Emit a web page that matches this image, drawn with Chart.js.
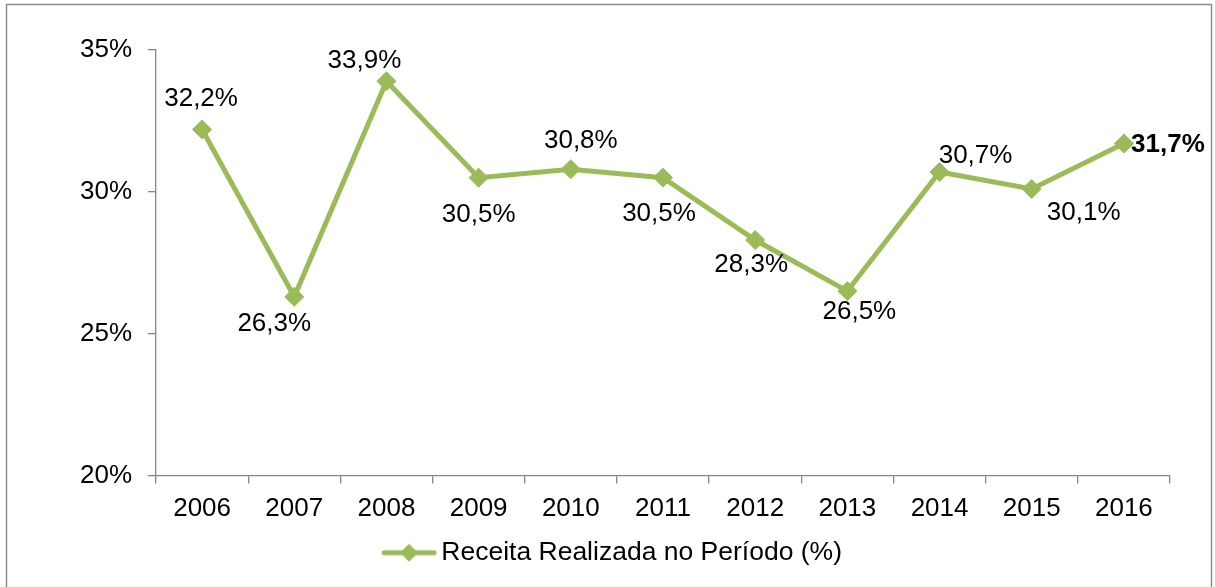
<!DOCTYPE html>
<html><head><meta charset="utf-8">
<script src="https://cdn.jsdelivr.net/npm/chart.js@4"></script>
<style>html,body{margin:0;padding:0;background:#fff}#wrap{width:1215px;height:587px}</style>
</head><body><div id="wrap"><canvas id="c" width="1215" height="587"></canvas></div>
<script>
const categories = ['2006','2007','2008','2009','2010','2011','2012','2013','2014','2015','2016'];
const values = [32.2, 26.3, 33.9, 30.5, 30.8, 30.5, 28.3, 26.5, 30.7, 30.1, 31.7];
const yTicks = [20, 25, 30, 35];
const seriesName = 'Receita Realizada no Período (%)';
// label nudges (px) relative to each point, as placed in the original
const labelOffsets = [[-1,-31],[-20,27],[-22,-20],[0,37],[10,-28],[-4,36],[-4,25],[12,21],[36,-16],[52,24],[44,1]];
const boldLabels = [false,false,false,false,false,false,false,false,false,false,true];

const GREEN = '#9BBB59';
const AXIS = '#868686';
const FONT = '"Liberation Sans", Arial, sans-serif';
Chart.defaults.font.family = FONT;
Chart.defaults.font.size = 26;
Chart.defaults.color = '#000';

// legend symbol: line with a diamond
const sym = document.createElement('canvas');
sym.width = 56; sym.height = 20;
(function(){
  const g = sym.getContext('2d');
  g.strokeStyle = GREEN; g.lineWidth = 5; g.lineCap = 'round';
  g.beginPath(); g.moveTo(3,10); g.lineTo(53,10); g.stroke();
  g.fillStyle = GREEN;
  g.beginPath(); g.moveTo(28,1); g.lineTo(37,10); g.lineTo(28,19); g.lineTo(19,10); g.closePath(); g.fill();
})();

const fmt = v => v.toFixed(1).replace('.', ',') + '%';

const frame = {
  id: 'frame',
  beforeDraw(chart) {
    const c = chart.ctx;
    c.save();
    c.fillStyle = '#fff'; c.fillRect(0,0,chart.width,chart.height);
    c.strokeStyle = '#8c8c8c'; c.lineWidth = 1.5;
    c.strokeRect(6.5, 4.5, 1205, 600);
    c.restore();
  }
};

const valueLabels = {
  id: 'valueLabels',
  afterDatasetsDraw(chart) {
    const c = chart.ctx;
    const meta = chart.getDatasetMeta(0);
    c.save();
    c.textAlign = 'center';
    c.textBaseline = 'middle';
    c.fillStyle = '#000';
    meta.data.forEach((pt, i) => {
      c.font = (boldLabels[i] ? 'bold ' : '') + '26px ' + FONT;
      const o = labelOffsets[i];
      c.fillText(fmt(values[i]), pt.x + o[0], pt.y + o[1]);
    });
    c.restore();
  }
};

new Chart(document.getElementById('c'), {
  type: 'line',
  data: {
    labels: categories,
    datasets: [{
      label: seriesName,
      data: values,
      borderColor: GREEN,
      backgroundColor: GREEN,
      borderWidth: 5,
      tension: 0,
      pointStyle: 'rectRot',
      pointRadius: 9.5,
      pointBorderWidth: 1,
      pointBackgroundColor: GREEN,
      pointBorderColor: GREEN,
      clip: false
    }]
  },
  options: {
    responsive: false,
    animation: false,
    layout: { padding: { left: 62, right: 45, top: 50, bottom: 11 } },
    plugins: {
      tooltip: { enabled: false },
      legend: {
        position: 'bottom',
        labels: {
          usePointStyle: true,
          pointStyle: sym,
          pointStyleWidth: 38,
          padding: 10,
          color: '#000',
          font: { size: 26.5, family: FONT },
          generateLabels(chart) {
            return [{ text: seriesName, pointStyle: sym, fillStyle: GREEN, strokeStyle: GREEN, lineWidth: 0, datasetIndex: 0, hidden: false }];
          }
        }
      }
    },
    scales: {
      x: {
        offset: true,
        grid: { display: true, offset: true, drawOnChartArea: false, drawTicks: true, tickLength: 8, color: AXIS, lineWidth: 1.3 },
        border: { display: true, color: AXIS, width: 1.3 },
        ticks: { padding: 10, color: '#000', font: { size: 26 }, maxRotation: 0, autoSkip: false },
        afterFit(s) { s.height = 54; }
      },
      y: {
        min: 20, max: 35,
        grid: { display: true, drawOnChartArea: false, drawTicks: true, tickLength: 8, color: AXIS, lineWidth: 1.3 },
        border: { display: true, color: AXIS, width: 1.3 },
        ticks: { padding: 16, color: '#000', font: { size: 26 }, callback: v => v + '%' },
        afterBuildTicks(s) { s.ticks = yTicks.map(v => ({ value: v })); },
        afterFit(s) { s.width = 94; }
      }
    }
  },
  plugins: [frame, valueLabels]
});
</script></body></html>
